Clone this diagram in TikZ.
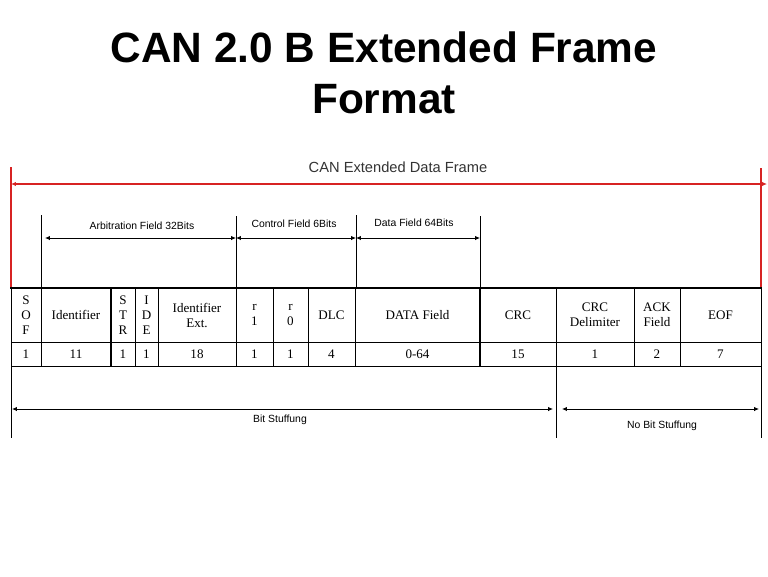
\documentclass[tikz,border=0pt]{standalone}
\usepackage{fontspec}
\setmainfont{Liberation Serif}
\setsansfont{Liberation Sans}
\usetikzlibrary{arrows.meta}
\definecolor{framered}{RGB}{215,35,35}
\tikzset{titletext/.style={font=\sffamily\bfseries\fontsize{31.8}{36}\selectfont, anchor=base, inner sep=0pt}}
\tikzset{cell/.style={font=\fontsize{9.8}{11.25}\selectfont, align=center, inner sep=0pt}}
\tikzset{fieldtext/.style={font=\sffamily\fontsize{7.8}{9}\selectfont, inner sep=0pt}}
\tikzset{span/.style={{Latex[length=3.6pt,width=3.2pt]}-{Latex[length=3.6pt,width=3.2pt]}, line width=0.6pt}}
\tikzset{grid/.style={line width=0.6pt}}
\tikzset{bold/.style={line width=1.7pt}}

\begin{document}
\begin{tikzpicture}[x=0.75pt,y=-0.75pt]
    \useasboundingbox (0,0) rectangle (768,576);
    % title
    \node[titletext] at (384,62) (title1) {CAN 2.0 B Extended Frame};
    \node[titletext] at (384,113) (title2) {Format};

    % whole frame
    \draw[framered, line width=0.8pt] (11,167) -- (11,288);
    \draw[framered, line width=0.8pt] (761,168) -- (761,288);
    \coordinate (frameL) at (11,184);
    \coordinate (frameR) at (767,184);
    \draw[span, framered, line width=0.8pt] (frameL) -- (frameR);
    \node[fieldtext, font=\sffamily\fontsize{11}{13}\selectfont, black!80] at (398,167) (frame) {CAN Extended Data Frame};

    % fields above the table
    \draw[grid] (41,215) -- (41,288);
    \draw[grid] (236,216) -- (236,288);
    \draw[grid] (356,215) -- (356,288);
    \draw[grid] (480,216) -- (480,288);
    \coordinate (arbL) at (45,238);
    \coordinate (arbR) at (236,238);
    \coordinate (ctlR) at (356,238);
    \coordinate (dataR) at (480,238);
    \draw[span] (arbL) -- (arbR);
    \draw[span] (arbR) -- (ctlR);
    \draw[span] (ctlR) -- (dataR);
    \node[fieldtext] at (142,226) (arb) {Arbitration Field 32Bits};
    \node[fieldtext] at (294,224) (ctl) {Control Field 6Bits};
    \node[fieldtext] at (414,223) (data) {Data Field 64Bits};

    % table
    \draw[grid] (11,288) rectangle (761,366);
    \draw[grid] (11,342) -- (761,342);
    \draw[grid] (41,288) -- (41,366);
    \draw[grid] (135,288) -- (135,366);
    \draw[grid] (158,288) -- (158,366);
    \draw[grid] (236,288) -- (236,366);
    \draw[grid] (273,288) -- (273,366);
    \draw[grid] (308,288) -- (308,366);
    \draw[grid] (355,288) -- (355,366);
    \draw[grid] (556,288) -- (556,366);
    \draw[grid] (634,288) -- (634,366);
    \draw[grid] (680,288) -- (680,366);
    \draw[bold] (10,288) -- (762,288);
    \draw[bold] (111,288) -- (111,366);
    \draw[bold] (480,288) -- (480,366);

    \node[cell] at (26,315) (sof) {S\\O\\F};
    \node[cell] at (76,315) (id) {Identifier};
    \node[cell] at (123,315) (str) {S\\T\\R};
    \node[cell] at (146.5,315) (ide) {I\\D\\E};
    \node[cell] at (197,315) (idext) {Identifier\\Ext.};
    \node[cell] at (254.5,315) (rone) {r\\1};
    \node[cell] at (290.5,315) (rzero) {r\\0};
    \node[cell] at (331.5,315) (dlc) {DLC};
    \node[cell] at (417.5,315) (datafield) {DATA Field};
    \node[cell] at (518,315) (crc) {CRC};
    \node[cell] at (595,315) (crcdel) {CRC\\Delimiter};
    \node[cell] at (657,315) (ack) {ACK\\Field};
    \node[cell] at (720.5,315) (eof) {EOF};

    \node[cell] at (26,354) (sofbits) {1};
    \node[cell] at (76,354) (idbits) {11};
    \node[cell] at (123,354) (strbits) {1};
    \node[cell] at (146.5,354) (idebits) {1};
    \node[cell] at (197,354) (idextbits) {18};
    \node[cell] at (254.5,354) (ronebits) {1};
    \node[cell] at (290.5,354) (rzerobits) {1};
    \node[cell] at (331.5,354) (dlcbits) {4};
    \node[cell] at (417.5,354) (databits) {0-64};
    \node[cell] at (518,354) (crcbits) {15};
    \node[cell] at (595,354) (crcdelbits) {1};
    \node[cell] at (657,354) (ackbits) {2};
    \node[cell] at (720.5,354) (eofbits) {7};

    % stuffing
    \draw[grid] (11,366) -- (11,438);
    \draw[grid] (556,366) -- (556,438);
    \draw[grid] (761,366) -- (761,438);
    \coordinate (stufL) at (12,409);
    \coordinate (stufR) at (553,409);
    \coordinate (nostufL) at (562,409);
    \coordinate (nostufR) at (759,409);
    \draw[span] (stufL) -- (stufR);
    \draw[span] (nostufL) -- (nostufR);
    \node[fieldtext] at (280,420) (stuf) {Bit Stuffung};
    \node[fieldtext] at (662,426) (nostuf) {No Bit Stuffung};
\end{tikzpicture}
\end{document}
